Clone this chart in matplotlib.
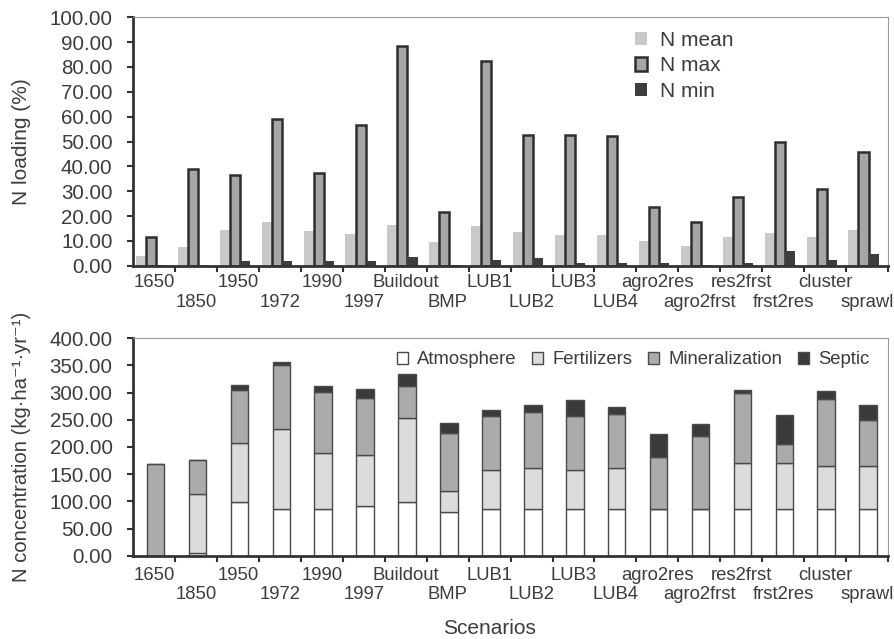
import numpy as np
import matplotlib.pyplot as plt
from matplotlib.ticker import FormatStrFormatter

plt.rcParams['font.family'] = ['Liberation Sans', 'DejaVu Sans']

scenarios = ["1650", "1850", "1950", "1972", "1990", "1997", "Buildout", "BMP",
             "LUB1", "LUB2", "LUB3", "LUB4", "agro2res", "agro2frst",
             "res2frst", "frst2res", "cluster", "sprawl"]

# top panel, N loading (%)
n_mean = [4.0, 7.5, 14.5, 17.5, 14.0, 13.0, 16.5, 9.5, 16.0, 13.8,
          12.5, 12.5, 10.0, 8.0, 11.4, 13.4, 11.4, 14.6]
n_max = [11.5, 39.0, 36.5, 59.0, 37.5, 56.5, 88.5, 21.5, 82.6, 52.8,
         52.8, 52.4, 23.8, 17.5, 27.5, 49.7, 30.9, 45.7]
n_min = [0.3, 0.3, 2.0, 2.0, 2.0, 2.0, 3.5, 0.5, 2.3, 3.0,
         1.0, 1.0, 1.0, 0.3, 1.0, 5.8, 2.3, 4.7]

# bottom panel, N concentration components (kg ha-1 yr-1)
atmosphere = [0.0, 5.0, 98.6, 86.4, 86.4, 92.5, 99.2, 81.5, 86.4, 86.4,
              86.4, 86.4, 86.4, 86.4, 86.4, 86.4, 86.4, 86.4]
fertilizers = [0.0, 108.0, 108.4, 146.4, 102.3, 92.5, 153.8, 38.5, 71.6, 74.6,
               71.6, 74.6, 0.0, 0.0, 85.1, 85.1, 79.6, 79.6]
mineralization = [168.5, 63.0, 96.8, 117.0, 112.1, 104.7, 59.4, 105.4, 99.3, 102.4,
                  99.3, 100.0, 94.9, 134.1, 127.4, 34.3, 122.5, 82.7]
septic = [0.0, 0.0, 9.2, 6.7, 11.6, 17.2, 20.8, 18.4, 11.0, 12.9,
          28.1, 12.2, 42.3, 21.5, 6.1, 53.2, 13.5, 28.2]

text_col = "#3c3c3c"
x = np.arange(len(scenarios))

fig = plt.figure(figsize=(8.95, 6.39), dpi=100)
ax1 = fig.add_axes([0.149, 0.584, 0.843, 0.389])
ax2 = fig.add_axes([0.149, 0.130, 0.843, 0.341])


def style_axes(ax, row1, row2):
    ax.set_xlim(-0.5, len(scenarios) - 0.5)
    ax.set_xticks(x + 0.5)
    ax.set_xticklabels([])
    ax.tick_params(axis="x", length=4, width=1.5, direction="out", color="#333333")
    # staggered category labels, offsets in pixels -> points
    for i, s in enumerate(scenarios):
        off = row1 if i % 2 == 0 else row2
        ax.annotate(s, xy=(i, 0), xycoords=("data", "axes fraction"),
                    xytext=(0, -off * 0.72), textcoords="offset points",
                    ha="center", va="center", fontsize=13.3, color=text_col,
                    annotation_clip=False)
    ax.tick_params(axis="y", length=4, width=1.5, color="#333333", labelsize=14.8,
                   labelcolor=text_col, pad=11)
    ax.yaxis.set_major_formatter(FormatStrFormatter("%.2f"))
    for side in ["left", "bottom"]:
        ax.spines[side].set_linewidth(2)
        ax.spines[side].set_color("#333333")
    for side in ["top", "right"]:
        ax.spines[side].set_linewidth(0.8)
        ax.spines[side].set_color("#9a9a9a")


# top panel
w = 0.24
ax1.bar(x - 0.32, n_mean, w, color="#c9c9c9", label="N mean")
ax1.bar(x - 0.08, n_max, w, color="#a6a6a6", edgecolor="#2e2e2e", linewidth=1.8, label="N max")
ax1.bar(x + 0.16, n_min, w, color="#3d3d3d", label="N min")
ax1.set_ylim(0, 100)
ax1.set_yticks(np.arange(0, 101, 10))
style_axes(ax1, 17, 37)
ax1.set_ylabel("N loading (%)", fontsize=15, color=text_col)
ax1.yaxis.set_label_coords(-0.135, 0.5)
ax1.legend(loc="upper left", bbox_to_anchor=(0.64, 1.02), frameon=False, fontsize=15,
           handlelength=0.6, handleheight=0.6, handletextpad=0.6, labelspacing=0.3,
           labelcolor=text_col)

# bottom panel
wb = 0.42
xb = x + 0.03
bottom = np.zeros(len(scenarios))
stack = [("Atmosphere", atmosphere, "#ffffff"),
         ("Fertilizers", fertilizers, "#dcdcdc"),
         ("Mineralization", mineralization, "#ababab"),
         ("Septic", septic, "#3a3a3a")]
for name, vals, col in stack:
    vals = np.array(vals)
    ax2.bar(xb, vals, wb, bottom=bottom, color=col, edgecolor="#4a4a4a", linewidth=1.0, label=name)
    bottom += vals
ax2.set_ylim(0, 400)
ax2.set_yticks(np.arange(0, 401, 50))
style_axes(ax2, 20, 39)
ax2.set_ylabel("N concentration (kg·ha⁻¹·yr⁻¹)", fontsize=14.6, color=text_col)
ax2.yaxis.set_label_coords(-0.135, 0.5)
fig.text(489 / 895, 1 - 628 / 639, "Scenarios", fontsize=15, color=text_col,
         ha="center", va="center")
ax2.legend(loc="upper right", bbox_to_anchor=(0.998, 1.015), ncol=4, frameon=False, fontsize=13.3,
           handlelength=0.6, handleheight=0.6, handletextpad=0.5, columnspacing=0.85,
           labelcolor=text_col)

plt.savefig("out.png", dpi=100)
plt.close(fig)
